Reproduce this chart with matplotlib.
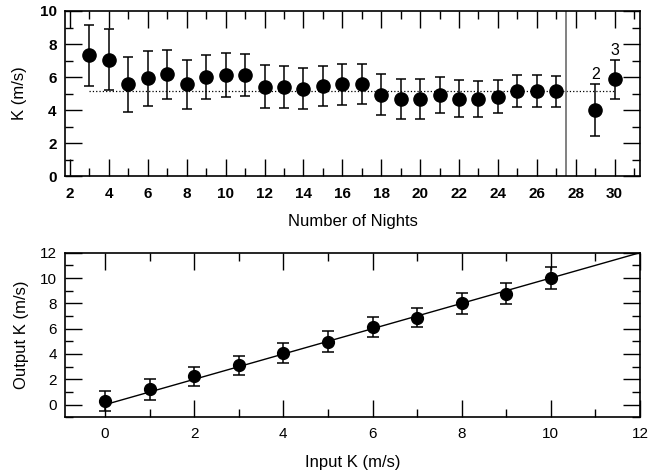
import numpy as np
import matplotlib.pyplot as plt

plt.rcParams['font.family'] = ['Liberation Sans', 'DejaVu Sans']

# K versus number of nights
nights = [3, 4, 5, 6, 7, 8, 9, 10, 11, 12, 13, 14, 15, 16, 17, 18, 19, 20,
          21, 22, 23, 24, 25, 26, 27]
k_nights = [7.31, 7.05, 5.57, 5.93, 6.17, 5.55, 6.01, 6.11, 6.14, 5.42, 5.39,
            5.30, 5.46, 5.55, 5.59, 4.94, 4.66, 4.68, 4.90, 4.69, 4.67, 4.81,
            5.13, 5.16, 5.13]
k_nights_err = [1.85, 1.84, 1.67, 1.67, 1.48, 1.47, 1.34, 1.32, 1.27, 1.32,
                1.27, 1.26, 1.23, 1.22, 1.22, 1.24, 1.21, 1.20, 1.11, 1.11,
                1.09, 0.99, 0.97, 0.96, 0.94]
extra_nights = [29, 30]
extra_k = [4.00, 5.87]
extra_err = [1.55, 1.19]
extra_labels = ['2', '3']
k_mean = 5.15

# injected vs recovered K
k_in = [0, 1, 2, 3, 4, 5, 6, 7, 8, 9, 10]
k_out = [0.30, 1.20, 2.24, 3.12, 4.07, 4.98, 6.12, 6.85, 8.00, 8.77, 10.01]
k_out_err = [0.81, 0.80, 0.76, 0.75, 0.78, 0.80, 0.80, 0.75, 0.81, 0.80, 0.89]

fig = plt.figure(figsize=(6.51, 4.72), dpi=100)
ax1 = fig.add_axes([0.0998, 0.627, 0.8832, 0.3497])
ax2 = fig.add_axes([0.0998, 0.1159, 0.8832, 0.3487])


def style(ax):
    for s in ax.spines.values():
        s.set_linewidth(1.2)
    ax.tick_params(which='both', direction='in', top=True, right=True,
                   width=1.0, labelsize=11)
    ax.tick_params(which='major', length=12)
    ax.tick_params(which='minor', length=6)


eb = dict(fmt='o', color='black', ms=9.5, capsize=3.8, elinewidth=1.1,
          capthick=1.1)

ax1.errorbar(nights, k_nights, yerr=k_nights_err, **eb)
ax1.errorbar(extra_nights, extra_k, yerr=extra_err, **eb)
ax1.plot([3, 30], [k_mean, k_mean], color='black', ls=':', lw=0.9)
ax1.axvline(27.5, color='#777777', lw=1.3)
for x, y, e, t in zip(extra_nights, extra_k, extra_err, extra_labels):
    ax1.text(x, y + e + 0.12, t, ha='center', va='bottom', fontsize=11.5)
ax1.set_xlim(1.74, 31.3)
ax1.set_ylim(0, 10)
ax1.set_xticks(np.arange(2, 31, 2))
ax1.set_xticks(np.arange(3, 32, 2), minor=True)
ax1.set_yticks(np.arange(0, 11, 2))
ax1.set_yticks(np.arange(1, 10, 2), minor=True)
style(ax1)
ax1.tick_params(axis='x', which='major', pad=8)
ax1.tick_params(axis='y', which='major', pad=6)
for lab in ax1.get_xticklabels() + ax1.get_yticklabels():
    lab.set_fontweight('bold')
ax1.set_xlabel('Number of Nights', fontsize=12, labelpad=9)
ax1.set_ylabel('K (m/s)', fontsize=12, labelpad=9)

ax2.plot([0, 12], [0, 12], color='black', lw=1.0)
ax2.errorbar(k_in, k_out, yerr=k_out_err,
             **dict(eb, ms=8.5, capsize=4.3))
ax2.set_xlim(-0.9, 12)
ax2.set_ylim(-0.9, 12)
ax2.set_xticks(np.arange(0, 13, 2))
ax2.set_xticks(np.arange(1, 12, 2), minor=True)
ax2.set_yticks(np.arange(0, 13, 2))
ax2.set_yticks(np.arange(-1, 12, 1), minor=True)
style(ax2)
ax2.tick_params(axis='x', which='major', pad=7)
ax2.tick_params(axis='y', which='major', pad=6)
ax2.set_xlabel('Input K (m/s)', fontsize=12, labelpad=10)
ax2.set_ylabel('Output K (m/s)', fontsize=12, labelpad=8)

fig.savefig('out.png', dpi=100)
